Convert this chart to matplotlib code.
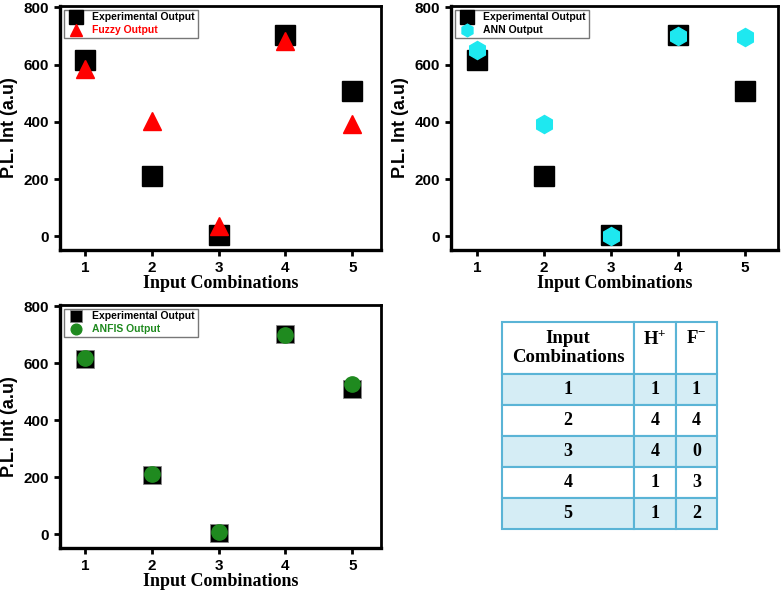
import matplotlib
matplotlib.use("Agg")
import matplotlib.pyplot as plt

# data
combos = [1, 2, 3, 4, 5]
experimental = [617, 210, 3, 702, 509]
fuzzy = [584, 403, 37, 683, 393]
ann = [652, 392, 1, 701, 696]
anfis = [620, 211, 7, 701, 529]

table_header = ["Input\nCombinations", "H$^{+}$\n ", "F$^{-}$\n "]
h_plus = [1, 4, 4, 1, 1]
f_minus = [1, 4, 0, 3, 2]

plt.rcParams['font.family'] = ['Liberation Sans', 'DejaVu Sans']
plt.rcParams['font.weight'] = 'bold'
plt.rcParams['mathtext.fontset'] = 'custom'
plt.rcParams['mathtext.rm'] = 'Liberation Serif:bold'
plt.rcParams['mathtext.it'] = 'Liberation Serif:bold'
plt.rcParams['mathtext.bf'] = 'Liberation Serif:bold'

W, H = 782, 590
fig = plt.figure(figsize=(W / 100, H / 100), dpi=100)


def px_axes(l, t, r, b):
    return fig.add_axes([l / W, 1 - b / H, (r - l) / W, (b - t) / H])


def style(ax, xlim):
    ax.set_xlim(*xlim)
    ax.set_ylim(-48, 805)
    ax.set_xticks(combos)
    ax.set_yticks([0, 200, 400, 600, 800])
    for s in ['left', 'bottom']:
        ax.spines[s].set_linewidth(2.4)
    for s in ['top', 'right']:
        ax.spines[s].set_linewidth(2.0)
    ax.tick_params(direction='out', length=4, width=2, labelsize=11, pad=4)
    for lab in ax.get_xticklabels() + ax.get_yticklabels():
        lab.set_fontweight('bold')
    ax.set_xlabel("Input Combinations", fontsize=13, fontweight='bold',
                  family='Liberation Serif', labelpad=0)
    ax.set_ylabel("P.L. Int (a.u)", fontsize=13, fontweight='bold', labelpad=4)


def add_legend(ax, color2):
    leg = ax.legend(loc='upper left', fontsize=7.5, frameon=True, fancybox=False,
                    edgecolor='#777777', framealpha=1, markerscale=0.7,
                    handlelength=1.9, handletextpad=0.6, labelspacing=0.3,
                    borderaxespad=0.35, borderpad=0.25)
    leg.get_frame().set_linewidth(1.0)
    texts = leg.get_texts()
    texts[0].set_color('black')
    texts[1].set_color(color2)
    for t in texts:
        t.set_fontweight('bold')


# panel 1: fuzzy
ax1 = px_axes(60, 6, 381, 250)
ax1.plot(combos, experimental, 's', color='black', markersize=14,
         label='Experimental Output', zorder=3)
ax1.plot(combos, fuzzy, '^', color='red', markersize=13,
         label='Fuzzy Output', zorder=4)
style(ax1, (0.625, 5.43))
add_legend(ax1, 'red')

# panel 2: ANN
ax2 = px_axes(451, 6, 778, 250)
ax2.plot(combos, experimental, 's', color='black', markersize=14,
         label='Experimental Output', zorder=3)
ax2.plot(combos, ann, 'h', color='#1ee8f0', markersize=13,
         label='ANN Output', zorder=4)
style(ax2, (0.61, 5.49))
add_legend(ax2, 'black')

# panel 3: ANFIS
ax3 = px_axes(60, 305, 381, 548)
ax3.plot(combos, experimental, 's', color='black', markeredgecolor='#888888',
         markeredgewidth=0.6, markersize=13, label='Experimental Output', zorder=3)
ax3.plot(combos, anfis, 'o', color='#1f8a1f', markersize=11,
         label='ANFIS Output', zorder=4)
style(ax3, (0.625, 5.43))
add_legend(ax3, '#1f8a1f')

# table of input combinations
axt = px_axes(502, 322, 717, 529)
axt.axis('off')
cell_text = [[str(c), str(h), str(f)] for c, h, f in zip(combos, h_plus, f_minus)]
tab = axt.table(cellText=cell_text, colLabels=table_header,
                colWidths=[132, 42, 41], cellLoc='center', bbox=[0, 0, 1, 1])
tab.auto_set_font_size(False)
for (r, c), cell in tab.get_celld().items():
    cell.set_edgecolor('#5ab4d6')
    cell.set_linewidth(1.5)
    cell.set_height(52 if r == 0 else 31)
    if r > 0 and r % 2 == 1:
        cell.set_facecolor('#d5edf5')
    else:
        cell.set_facecolor('white')
    txt = cell.get_text()
    txt.set_fontfamily('Liberation Serif')
    txt.set_fontweight('bold')
    txt.set_fontsize(13.5 if r == 0 else 13)
    txt.set_linespacing(1.15)

fig.savefig("out.png", dpi=100)
